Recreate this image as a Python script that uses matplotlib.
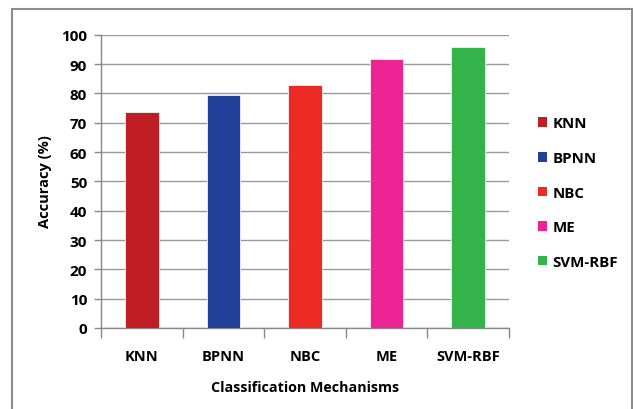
import matplotlib
matplotlib.use('Agg')
import matplotlib.pyplot as plt
from matplotlib.patches import Rectangle, Patch

# Data
methods = ['KNN', 'BPNN', 'NBC', 'ME', 'SVM-RBF']
accuracy = [73.6, 79.6, 82.7, 91.6, 95.7]
colors = ['#BE1E24', '#21409A', '#EE2A24', '#EC2393', '#33B34A']
yticks = [0, 10, 20, 30, 40, 50, 60, 70, 80, 90, 100]

plt.rcParams['font.family'] = ['Open Sans', 'DejaVu Sans']
W, H = 633, 410
fig = plt.figure(figsize=(W / 100, H / 100), dpi=100)
ax = fig.add_axes([101 / W, 1 - 329 / H, 408 / W, (329 - 35.7) / H])

x = range(len(methods))
ax.bar(x, accuracy, width=0.41, color=colors, edgecolor='#f2f2f2', linewidth=0.6, zorder=3)

ax.set_xlim(-0.5, len(methods) - 0.5)
ax.set_ylim(0, 100)
ax.set_yticks(yticks)
ax.set_yticklabels([str(v) for v in yticks], fontsize=11, fontweight='bold')
ax.yaxis.grid(True, color='#9a9a9a', linewidth=1.0, zorder=0)

# x ticks between categories, labels at centers
ax.set_xticks([i - 0.5 for i in range(len(methods) + 1)])
ax.set_xticklabels([])
ax.set_xticks(list(x), minor=True)
ax.set_xticklabels(methods, minor=True, fontsize=10.5, fontweight='bold')
ax.tick_params(axis='x', which='major', length=7, color='#888888', width=1)
ax.tick_params(axis='x', which='minor', length=0, pad=15)
ax.tick_params(axis='y', length=5, color='#888888', width=1, pad=5)

for s in ['top', 'right']:
    ax.spines[s].set_visible(False)
ax.spines['left'].set_color('#888888')
ax.spines['bottom'].set_color('#888888')
ax.spines['left'].set_linewidth(1)
ax.spines['bottom'].set_linewidth(1)

fig.text(45 / W, 1 - 182 / H, 'Accuracy (%)', rotation=90, ha='center', va='center',
         fontsize=10.5, fontweight='bold')
fig.text(305 / W, 1 - 388 / H, 'Classification Mechanisms', ha='center', va='center',
         fontsize=10.3, fontweight='bold')

handles = [Patch(facecolor=c, edgecolor='none') for c in colors]
fig.legend(handles, methods, loc='upper left', bbox_to_anchor=(524 / W, 1 - 104 / H),
           frameon=False, prop={'size': 10.8, 'weight': 'bold'},
           handlelength=0.6, handleheight=0.6, handletextpad=0.4, labelspacing=1.37)

# outer frame
fig.patches.append(Rectangle((12 / W, -0.05), 620 / W, 1.05 - 10 / H, transform=fig.transFigure,
                             fill=False, edgecolor='#8c8c8c', linewidth=1.5))

fig.savefig('out.png', dpi=100)
